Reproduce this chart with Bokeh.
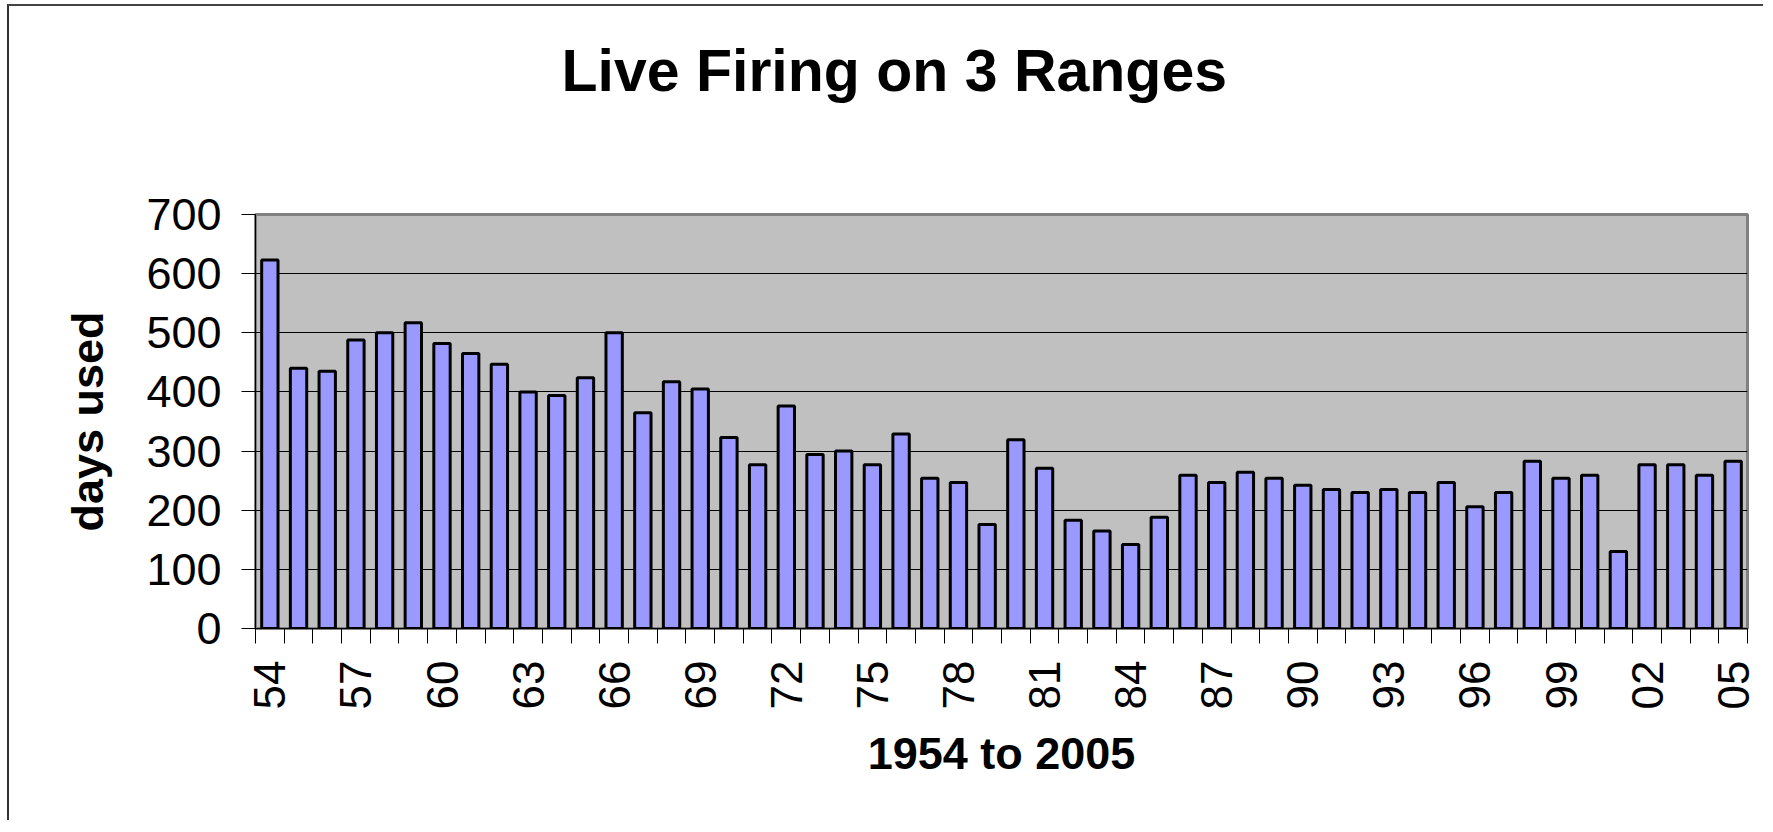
import math
from bokeh.plotting import figure
from bokeh.models import ColumnDataSource, FixedTicker, Range1d, Title
from bokeh.embed import file_html
from bokeh.resources import INLINE

years = list(range(1954, 2006))
days_used = [623, 440, 435, 488, 500, 517, 482, 465, 447, 400, 394, 424, 500,
             365, 417, 405, 323, 277, 376, 294, 300, 277, 329, 254, 247, 176,
             319, 271, 183, 165, 142, 188, 259,
             247, 264, 254, 242, 235, 230, 235, 230, 247, 206, 230, 283, 254,
             259, 130, 277, 277, 259, 283]
label_years = years[::3]
tick_labels = {y: "%02d" % (y % 100) for y in label_years}
y_ticks = [0, 100, 200, 300, 400, 500, 600, 700]
title_text = "Live Firing on 3 Ranges"

FONT = "Liberation Sans"

src = ColumnDataSource(dict(x=years, top=days_used))

p = figure(width=1756, height=816, output_backend="svg", toolbar_location=None,
           x_range=Range1d(years[0] - 0.5, years[-1] + 0.5),
           y_range=Range1d(0, 700),
           min_border_left=246, min_border_right=18,
           min_border_top=208, min_border_bottom=194)
p.styles = {"border-left": "2px solid #333", "border-top": "2px solid #444",
            "margin-left": "7px", "margin-top": "4px"}

# spacer between title and plot area (closest to the frame), then main title
p.add_layout(Title(text=" ", text_font=FONT, text_font_size="10px", standoff=98), "above")
p.add_layout(Title(text=title_text, align="left", offset=306, standoff=0,
                   text_font=FONT, text_font_size="59px", text_font_style="bold",
                   text_color="#000000"), "above")

p.background_fill_color = "#C0C0C0"
p.border_fill_color = "#FFFFFF"
p.outline_line_color = "#808080"
p.outline_line_width = 3

p.vbar(x="x", top="top", width=0.57, bottom=0, source=src,
       fill_color="#9999FF", line_color="#000000", line_width=3)

# y axis
p.yaxis.ticker = FixedTicker(ticks=y_ticks)
p.yaxis.major_tick_out = 14
p.yaxis.major_tick_in = 0
p.yaxis.minor_tick_out = 0
p.yaxis.minor_tick_in = 0
p.yaxis.major_label_text_font = FONT
p.yaxis.major_label_text_font_size = "45px"
p.yaxis.major_label_text_color = "#000000"
p.yaxis.major_label_standoff = 20
p.yaxis.axis_line_color = "#000000"
p.yaxis.major_tick_line_color = "#000000"
p.yaxis.axis_label = "days used"
p.yaxis.axis_label_text_font = FONT
p.yaxis.axis_label_text_font_size = "45px"
p.yaxis.axis_label_text_font_style = "bold"
p.yaxis.axis_label_text_color = "#000000"
p.yaxis.axis_label_standoff = 30

# x axis
boundaries = [y - 0.5 for y in years] + [years[-1] + 0.5]
p.xaxis.ticker = FixedTicker(ticks=label_years, minor_ticks=boundaries)
p.xaxis.major_label_overrides = tick_labels
p.xaxis.major_tick_out = 0
p.xaxis.major_tick_in = 0
p.xaxis.minor_tick_out = 15
p.xaxis.minor_tick_in = 0
p.xaxis.minor_tick_line_color = "#000000"
p.xaxis.major_label_orientation = math.pi / 2
p.xaxis.major_label_text_font = FONT
p.xaxis.major_label_text_font_size = "44px"
p.xaxis.major_label_text_color = "#000000"
p.xaxis.major_label_standoff = 17
p.xaxis.axis_line_color = "#000000"
p.xaxis.axis_label = "1954 to 2005"
p.xaxis.axis_label_text_font = FONT
p.xaxis.axis_label_text_font_size = "45px"
p.xaxis.axis_label_text_font_style = "bold"
p.xaxis.axis_label_text_color = "#000000"
p.xaxis.axis_label_standoff = 16

p.xgrid.grid_line_color = None
p.ygrid.ticker = FixedTicker(ticks=y_ticks)
p.ygrid.grid_line_color = "#000000"
p.ygrid.grid_line_width = 1.2

open("out.html", "w").write(file_html(p, INLINE))
